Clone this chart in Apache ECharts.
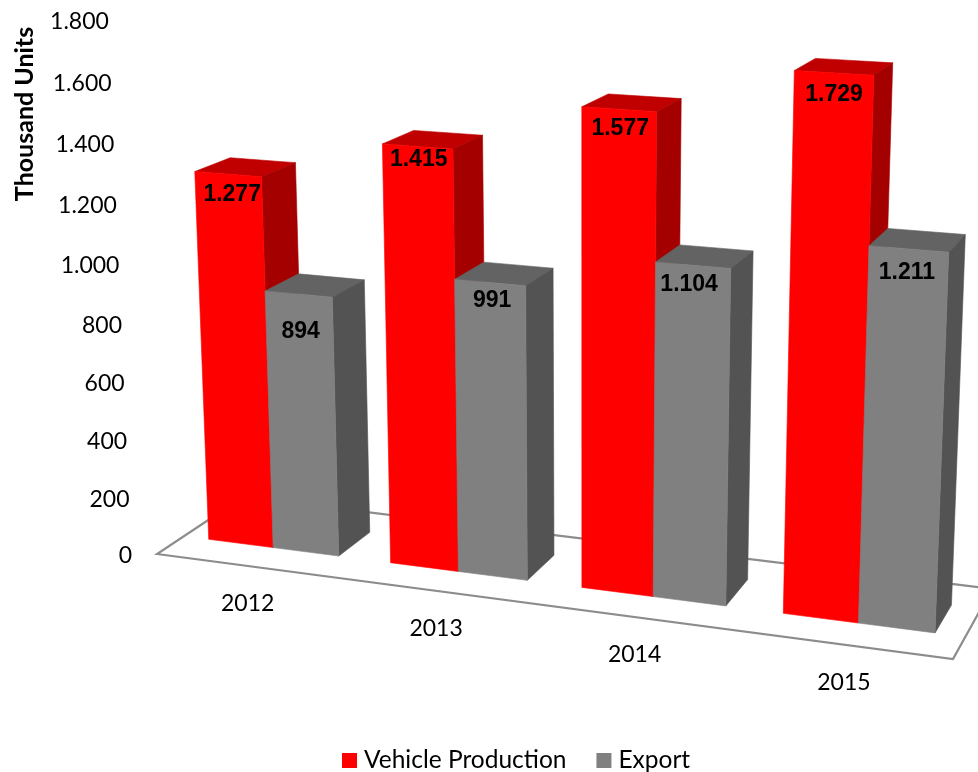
<!DOCTYPE html>
<html><head><meta charset="utf-8">
<style>html,body{margin:0;padding:0;background:#fff}#c{width:978px;height:772px}</style>
<script src="https://cdn.jsdelivr.net/npm/echarts@6/dist/echarts.min.js"></script>
</head><body><div id="c"></div>
<script>
const categories = ['2012', '2013', '2014', '2015'];
const vehicleProduction = [1277, 1415, 1577, 1729];
const exportUnits = [894, 991, 1104, 1211];
const yTickValues = [0, 200, 400, 600, 800, 1000, 1200, 1400, 1600, 1800];
const yTickLabels = ['0', '200', '400', '600', '800', '1.000', '1.200', '1.400', '1.600', '1.800'];

// value label hand placement seen in the reference (px from the nominal spot)
const productionNudge = [[4, 0], [1, -7], [1, -1], [0, 2]];
const exportNudge = [[2, 18], [2, -2], [-4, -1], [-2, 4]];

const AXIS_MAX = 1800;
const LABEL_FONT = 'Lato';
const BAR_HALF = 0.36, Z_FRONT = 0.3, Z_BACK = 0.7;

// Perspective camera: floor homography plus a vertical vanishing point.
function project(X, Z, v) {
  const u = X / 4, K = -2.855e-5 * v;
  const w = 1 - 0.1 * u + 0.068 * Z + K;
  return [
    (700.7 * u + 102.5 * Z + 157 + K * 584) / w,
    (39.1 * u - 23.2 * Z + 554 + K * 10428) / w
  ];
}
// Read world coordinates back out of the cartesian scale.
function world(params, api, cat, val) {
  const g = params.coordSys, pt = api.coord([cat, val]);
  return [(pt[0] - g.x) / g.width * categories.length, (g.y + g.height - pt[1]) / g.height * AXIS_MAX];
}
function poly(points, fill, z2) {
  return { type: 'polygon', z2: z2 || 0, shape: { points },
    style: { fill, stroke: fill, lineWidth: 0.6 } };
}
function barSeries(name, values, colors, side, nudge) {
  return {
    name, type: 'custom', coordinateSystem: 'cartesian2d', clip: false, silent: true, z: side < 0 ? 3 : 4,
    itemStyle: { color: colors.front },
    data: values.map((v, i) => [i, v]),
    encode: { x: 0, y: 1 },
    renderItem(params, api) {
      const i = api.value(0), top = api.value(1);
      const [xc, vt] = world(params, api, i, top);
      const x0 = side < 0 ? xc - BAR_HALF : xc, x1 = side < 0 ? xc : xc + BAR_HALF;
      const f0 = project(x0, Z_FRONT, 0), f1 = project(x1, Z_FRONT, 0);
      const t0 = project(x0, Z_FRONT, vt), t1 = project(x1, Z_FRONT, vt);
      const b1 = project(x1, Z_BACK, 0), tb1 = project(x1, Z_BACK, vt), tb0 = project(x0, Z_BACK, vt);
      const cx = (t0[0] + t1[0]) / 2, cy = (t0[1] + t1[1]) / 2;
      const n = nudge[params.dataIndex];
      const label = top >= 1000 ? String(top).replace(/(\d)(\d{3})$/, '$1.$2') : String(top);
      return { type: 'group', children: [
        poly([t0, t1, tb1, tb0], colors.top),
        poly([f1, b1, tb1, t1], colors.side),
        poly([f0, f1, t1, t0], colors.front),
        { type: 'text', z2: 5, x: cx + n[0], y: cy + 20 + n[1], style: {
          text: label, fill: '#000', font: 'bold 23px "Liberation Sans"',
          align: 'center', verticalAlign: 'middle' } }
      ] };
    }
  };
}

const option = {
  animation: false,
  backgroundColor: '#fff',
  grid: { left: 158, right: 100, top: 22, bottom: 218 },
  xAxis: { type: 'category', data: categories, show: false },
  yAxis: { type: 'value', min: 0, max: AXIS_MAX, interval: 200, show: false },
  legend: {
    data: ['Vehicle Production', 'Export'], left: 342, top: 748, padding: 0, itemWidth: 15, itemHeight: 15, itemGap: 30,
    icon: 'rect', selectedMode: false,
    textStyle: { fontFamily: LABEL_FONT, fontSize: 24.5, color: '#000', padding: [0, 0, 0, 2] }
  },
  graphic: [{
    type: 'text', x: 25, y: 114, rotation: Math.PI / 2, z: 10,
    style: { text: 'Thousand Units', fill: '#000', font: 'bold 25px ' + LABEL_FONT,
      align: 'center', verticalAlign: 'middle' }
  }],
  series: [
    { name: 'floor', type: 'custom', coordinateSystem: 'cartesian2d', clip: false, silent: true, z: 1,
      data: [[0, 0]],
      renderItem() {
        return { type: 'polygon',
          shape: { points: [project(0, 0, 0), project(4, 0, 0), project(4, 1, 0), project(0, 1, 0)] },
          style: { fill: '#fff', stroke: '#8c8c8c', lineWidth: 2.2 } };
      } },
    { name: 'yTicks', type: 'custom', coordinateSystem: 'cartesian2d', clip: false, silent: true, z: 2,
      data: yTickValues.map((v, i) => [0, v, i]),
      renderItem(params, api) {
        const v = world(params, api, 0, api.value(1))[1], p = project(0, 0, v);
        return { type: 'text', x: p[0] - 25, y: p[1] + 2, style: {
          text: yTickLabels[api.value(2)], fill: '#000', font: '23px ' + LABEL_FONT,
          align: 'right', verticalAlign: 'middle' } };
      } },
    { name: 'xTicks', type: 'custom', coordinateSystem: 'cartesian2d', clip: false, silent: true, z: 2,
      data: categories.map((c, i) => [i, 0]),
      renderItem(params, api) {
        const X = world(params, api, api.value(0), 0)[0], p = project(X, 0, 0);
        return { type: 'text', x: p[0], y: p[1] + 38, style: {
          text: categories[params.dataIndex], fill: '#000', font: '23px ' + LABEL_FONT,
          align: 'center', verticalAlign: 'middle' } };
      } },
    barSeries('Vehicle Production', vehicleProduction,
      { front: '#ff0000', side: '#a50000', top: '#c00000' }, -1, productionNudge),
    barSeries('Export', exportUnits,
      { front: '#808080', side: '#535353', top: '#636363' }, 1, exportNudge)
  ]
};
echarts.init(document.getElementById('c'), null, { renderer: 'canvas' }).setOption(option);
</script></body></html>
